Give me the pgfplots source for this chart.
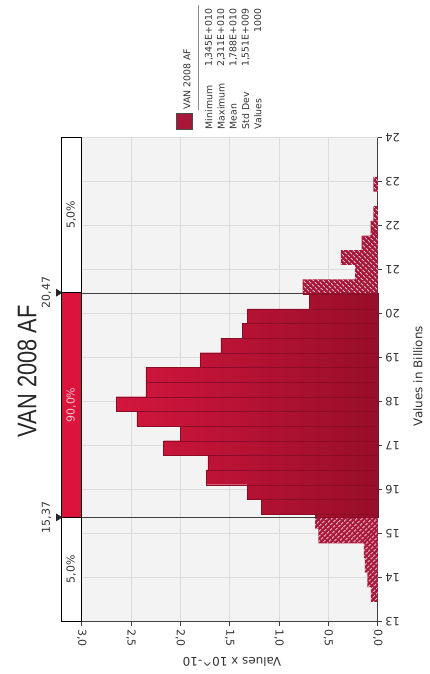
\documentclass[border=0pt]{standalone}
\usepackage{pgfplots}
\pgfplotsset{compat=1.18}
\usepackage{fontspec}
\setmainfont{DejaVu Sans}
\newfontfamily\titlefont{Liberation Sans}
\usetikzlibrary{patterns.meta}

\definecolor{plotbg}{HTML}{F3F3F3}
\definecolor{gridgray}{HTML}{DCDCDC}
\definecolor{barlight}{HTML}{D3163D}
\definecolor{bardark}{HTML}{980E2A}
\definecolor{barline}{HTML}{8A0C26}
\definecolor{hatchred}{HTML}{A8173A}
\definecolor{hatchline}{HTML}{F4C6D0}
\definecolor{stripred}{HTML}{DC143C}
\definecolor{txt}{HTML}{333333}
\definecolor{axisgray}{HTML}{404040}

\begin{document}
\begin{tikzpicture}
\path[use as bounding box] (0bp,0bp) rectangle (430bp,674bp);

\begin{axis}[
  at={(229.7bp,294.3bp)}, anchor=center,
  width=296bp, height=484bp, scale only axis,
  xmin=0, xmax=3, ymin=13, ymax=24,
  x dir=reverse,
  axis x line*=bottom, axis y line*=right,
  axis line style={axisgray, line width=0.8bp},
  axis background/.style={fill=plotbg},
  grid=major, grid style={gridgray, line width=0.6bp},
  xtick={0,0.5,1,1.5,2,2.5,3}, ytick={13,14,...,24},
  tick align=outside, major tick length=4bp,
  tick style={axisgray, line width=0.7bp},
  /pgf/number format/assume math mode=true,
  xticklabel={\pgfmathprintnumber[use comma,fixed,fixed zerofill,precision=1]{\tick}},
  xticklabel style={rotate=-90, anchor=west, font=\fontsize{11}{12}\selectfont, text=txt},
  yticklabel style={rotate=180, anchor=east, font=\fontsize{11.5}{12}\selectfont, text=txt},
  clip=false,
]
% percentile delimiters, running from the band into the plot
\draw[axisgray, line width=0.7bp] ([xshift=-20.7bp]axis cs:3,20.47) -- (axis cs:0,20.47);
\draw[axisgray, line width=0.7bp] ([xshift=-20.7bp]axis cs:3,15.37) -- (axis cs:0,15.37);

% lower 5% tail (density, lower bin edge)
\addplot[xbar interval, fill=hatchred, draw=none,
  postaction={pattern={Lines[angle=45,distance=3.6bp,line width=1.1bp]}, pattern color=hatchline}]
  coordinates {(0.070,13.450) (0.105,13.783) (0.130,14.116) (0.140,14.449)
               (0.600,14.782) (0.635,15.116) (0,15.37)};

% central 90%
\addplot[xbar interval, draw=barline, line width=0.25bp, left color=barlight, right color=bardark]
  coordinates {(0.635,15.37) (1.18,15.449) (1.32,15.782) (1.74,16.115) (1.72,16.448)
               (2.17,16.781) (2.00,17.114) (2.44,17.447) (2.65,17.780) (2.35,18.113)
               (2.35,18.447) (1.80,18.780) (1.59,19.113) (1.37,19.446) (1.32,19.779)
               (0.693,20.112) (0.76,20.445) (0,20.47)};

% upper 5% tail
\addplot[xbar interval, fill=hatchred, draw=none,
  postaction={pattern={Lines[angle=-45,distance=3.6bp,line width=1.1bp]}, pattern color=hatchline}]
  coordinates {(0.76,20.47) (0.23,20.778) (0.372,21.111) (0.162,21.444) (0.071,21.777)
               (0.045,22.111) (0,22.444) (0.045,22.777) (0,23.110)};
\end{axis}

\begin{scope}[x=1bp, y=1bp]
% probability band
\draw[black, line width=0.8bp, fill=white] (61,381.3) rectangle (81.2,536.3);
\draw[black, line width=0.8bp, fill=stripred] (61,156.6) rectangle (81.2,381.3);
\draw[black, line width=0.8bp, fill=white] (61,52.3) rectangle (81.2,156.6);
\fill[black!85] (62.5,381.3) -- (56,385.3) -- (56,377.3) -- cycle;
\fill[black!85] (62.5,156.6) -- (56,160.6) -- (56,152.6) -- cycle;

\begin{scope}[every node/.style={text=txt, font=\fontsize{11}{12}\selectfont, inner sep=0pt}]
\node[rotate=90] at (71.2,459) {5,0\%};
\node[rotate=90, text=hatchline] at (71.2,269) {90,0\%};
\node[rotate=90] at (71.2,104.5) {5,0\%};
\node[rotate=90] at (46.5,381.3) {20,47};
\node[rotate=90] at (46.5,156.6) {15,37};
\end{scope}

% title
\node[rotate=90, inner sep=0pt, text=black!85] at (27,302.7)
  {\scalebox{0.81}[1]{\titlefont\fontsize{27}{30}\selectfont VAN 2008 AF}};

% axis titles
\node[rotate=90, inner sep=0pt, text=txt, font=\fontsize{12}{13}\selectfont] at (418,298) {Values in Billions};
\node[rotate=180, inner sep=0pt, text=txt, font=\fontsize{12}{13}\selectfont] at (232,12) {Values x 10\textasciicircum-10};

% legend with summary statistics
\draw[fill=hatchred, draw=black!70, line width=0.6bp] (176,544.7) rectangle (192.7,560.7);
\draw[black!45, line width=0.7bp] (198.3,564) -- (198.3,669);
\begin{scope}[every node/.style={rotate=90, inner sep=0pt, text=txt, font=\fontsize{9.4}{10}\selectfont}]
\node[anchor=west] at (187,564) {VAN 2008 AF};
\node[anchor=west] at (209,544.7) {Minimum};
\node[anchor=west] at (221.2,544.7) {Maximum};
\node[anchor=west] at (233.4,544.7) {Mean};
\node[anchor=west] at (245.6,544.7) {Std Dev};
\node[anchor=west] at (257.8,544.7) {Values};
\node[anchor=east] at (209,665.7) {1,345E+010};
\node[anchor=east] at (221.2,665.7) {2,311E+010};
\node[anchor=east] at (233.4,665.7) {1,788E+010};
\node[anchor=east] at (245.6,665.7) {1,551E+009};
\node[anchor=east] at (257.8,665.7) {1000};
\end{scope}
\end{scope}
\end{tikzpicture}
\end{document}
